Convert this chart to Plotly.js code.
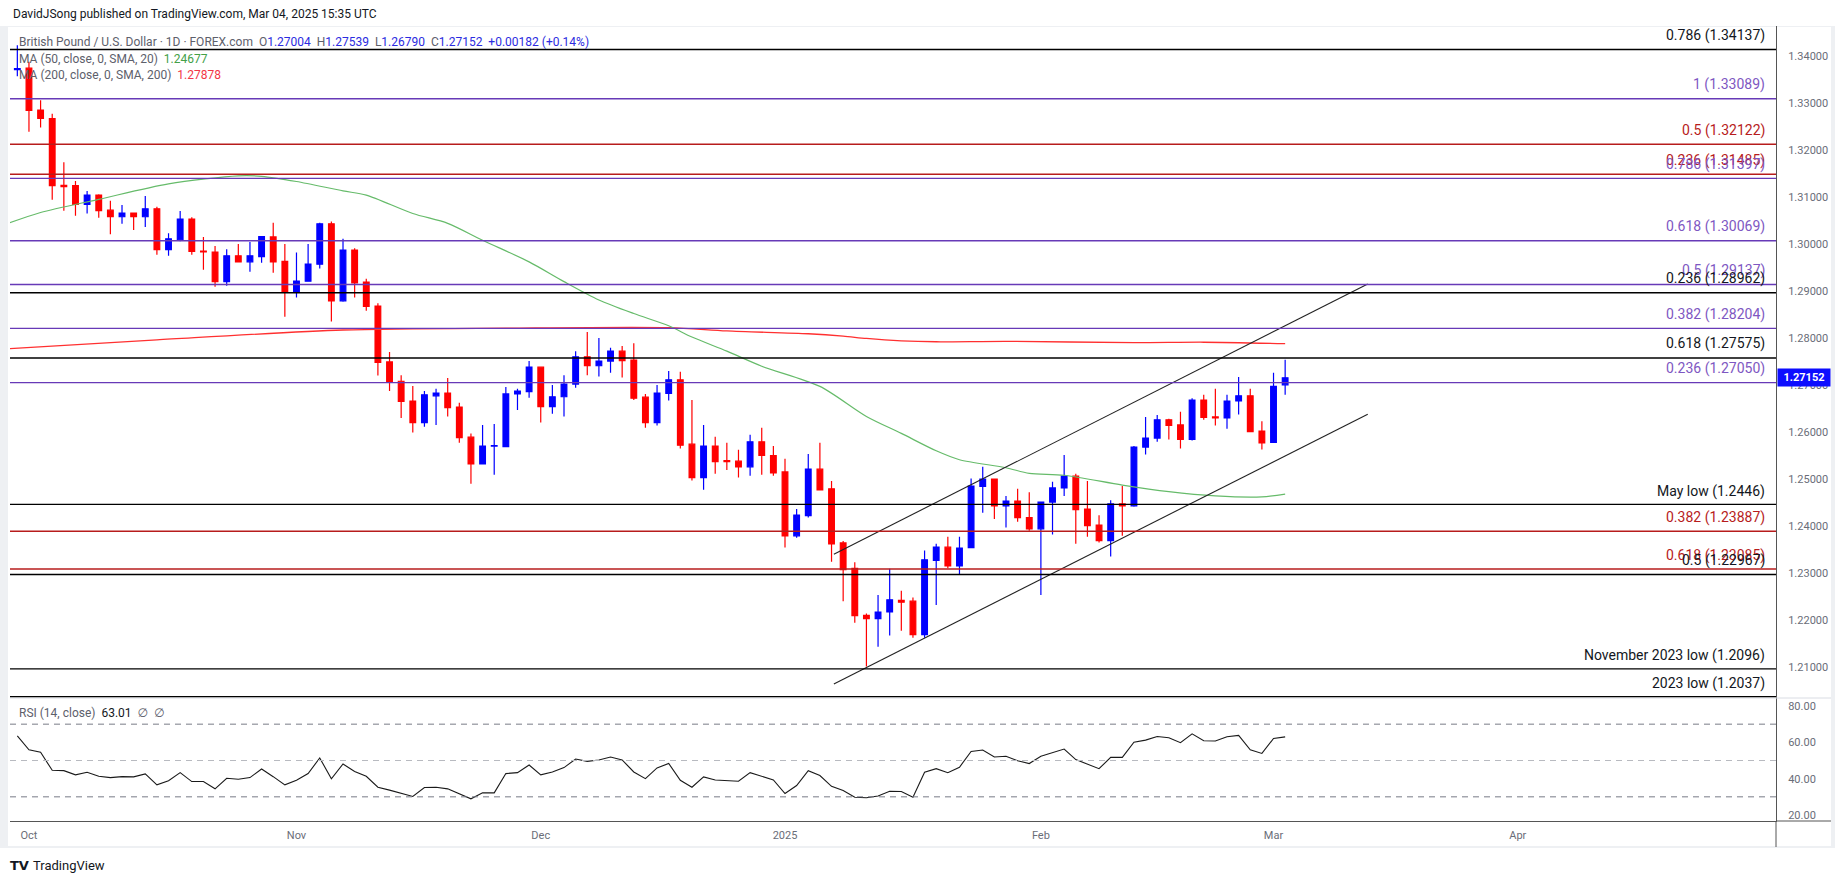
<!DOCTYPE html>
<html>
<head>
<meta charset="utf-8">
<script src="https://cdn.plot.ly/plotly-3.0.1.min.js"></script>
<style>
html,body{margin:0;padding:0;background:#fff;}
#chart{width:1835px;height:883px;}
</style>
</head>
<body>
<div id="chart"></div>
<script>
// ---------------- DATA ----------------
const dates = [
'2024-09-30',
'2024-10-01','2024-10-02','2024-10-03','2024-10-04','2024-10-07','2024-10-08','2024-10-09','2024-10-10','2024-10-11',
'2024-10-14','2024-10-15','2024-10-16','2024-10-17','2024-10-18','2024-10-21','2024-10-22','2024-10-23','2024-10-24',
'2024-10-25','2024-10-28','2024-10-29','2024-10-30','2024-10-31',
'2024-11-01','2024-11-04','2024-11-05','2024-11-06','2024-11-07','2024-11-08','2024-11-11','2024-11-12','2024-11-13',
'2024-11-14','2024-11-15','2024-11-18','2024-11-19','2024-11-20','2024-11-21','2024-11-22','2024-11-25','2024-11-26',
'2024-11-27','2024-11-28','2024-11-29',
'2024-12-02','2024-12-03','2024-12-04','2024-12-05','2024-12-06','2024-12-09','2024-12-10','2024-12-11','2024-12-12',
'2024-12-13','2024-12-16','2024-12-17','2024-12-18','2024-12-19','2024-12-20','2024-12-23','2024-12-24','2024-12-26',
'2024-12-27','2024-12-30','2024-12-31',
'2025-01-02','2025-01-03','2025-01-06','2025-01-07','2025-01-08','2025-01-09','2025-01-10','2025-01-13','2025-01-14',
'2025-01-15','2025-01-16','2025-01-17','2025-01-20','2025-01-21','2025-01-22','2025-01-23','2025-01-24','2025-01-27',
'2025-01-28','2025-01-29','2025-01-30','2025-01-31',
'2025-02-03','2025-02-04','2025-02-05','2025-02-06','2025-02-07','2025-02-10','2025-02-11','2025-02-12','2025-02-13',
'2025-02-14','2025-02-17','2025-02-18','2025-02-19','2025-02-20','2025-02-21','2025-02-24','2025-02-25','2025-02-26',
'2025-02-27','2025-02-28',
'2025-03-03','2025-03-04'
];

const openP = [
1.3371,
1.3374,1.3285,1.3267,1.3125,1.3124,1.3084,1.3104,1.3072,1.3058,1.3066,1.3058,1.3075,1.2988,1.3009,1.3053,1.2985,1.2983,1.2920,1.2975,1.2962,1.2973,1.3015,1.2963,
1.2899,1.2921,1.2957,1.3043,1.2879,1.2987,1.2919,1.2868,1.2749,1.2708,1.2666,1.2620,1.2677,1.2683,1.2653,1.2589,1.2532,1.2570,1.2569,1.2681,1.2686,
1.2738,1.2654,1.2675,1.2702,1.2760,1.2741,1.2751,1.2772,1.2753,1.2674,1.2620,1.2682,1.2711,1.2574,1.2503,1.2570,1.2539,1.2538,1.2526,1.2579,1.2550,
1.2515,1.2379,1.2422,1.2521,1.2479,1.2364,1.2310,1.2210,1.2203,1.2217,1.2242,1.2240,1.2169,1.2327,1.2355,1.2315,1.2354,1.2484,1.2500,1.2443,1.2453,1.2418,
1.2394,1.2451,1.2481,1.2506,1.2436,1.2402,1.2369,1.2447,1.2443,1.2568,1.2587,1.2626,1.2615,1.2584,1.2668,1.2632,1.2630,1.2666,1.2677,1.2602,
1.2578,1.27004
];
const highP = [
1.3423,
1.3388,1.3306,1.3277,1.3174,1.3134,1.3113,1.3106,1.3092,1.3083,1.3067,1.3102,1.3079,1.3023,1.3070,1.3057,1.3015,1.2996,1.2989,1.3000,1.3004,1.3017,1.3045,1.3000,
1.2982,1.3000,1.3045,1.3048,1.3011,1.2991,1.2926,1.2874,1.2770,1.2721,1.2698,1.2687,1.2692,1.2715,1.2662,1.2597,1.2615,1.2617,1.2696,1.2692,1.2751,
1.2739,1.2700,1.2721,1.2772,1.2813,1.2800,1.2779,1.2783,1.2789,1.2681,1.2700,1.2730,1.2728,1.2668,1.2615,1.2590,1.2577,1.2562,1.2594,1.2609,1.2570,
1.2543,1.2436,1.2553,1.2577,1.2496,1.2368,1.2323,1.2214,1.2253,1.2309,1.2262,1.2248,1.2348,1.2362,1.2377,1.2377,1.2501,1.2526,1.2501,1.2464,1.2479,1.2472,
1.2452,1.2494,1.2551,1.2511,1.2496,1.2423,1.2455,1.2485,1.2570,1.2632,1.2636,1.2628,1.2643,1.2672,1.2679,1.2692,1.2679,1.2717,1.2692,1.2623,
1.2726,1.27539
];
const lowP = [
1.3357,
1.3239,1.3248,1.3094,1.3071,1.3060,1.3065,1.3056,1.3021,1.3043,1.3030,1.3036,1.2977,1.2975,1.3006,1.2977,1.2945,1.2909,1.2911,1.2961,1.2941,1.2960,1.2939,1.2845,
1.2886,1.2920,1.2948,1.2835,1.2877,1.2886,1.2858,1.2720,1.2687,1.2630,1.2599,1.2611,1.2615,1.2633,1.2577,1.2490,1.2531,1.2509,1.2568,1.2647,1.2673,
1.2620,1.2639,1.2633,1.2694,1.2721,1.2718,1.2726,1.2716,1.2668,1.2609,1.2614,1.2667,1.2565,1.2497,1.2477,1.2511,1.2519,1.2503,1.2507,1.2509,1.2507,
1.2354,1.2375,1.2418,1.2476,1.2324,1.2240,1.2194,1.2101,1.2143,1.2167,1.2177,1.2162,1.2162,1.2232,1.2310,1.2298,1.2353,1.2428,1.2415,1.2397,1.2409,1.2390,
1.2253,1.2382,1.2464,1.2362,1.2377,1.2365,1.2335,1.2379,1.2441,1.2552,1.2579,1.2584,1.2565,1.2582,1.2626,1.2614,1.2607,1.2637,1.2600,1.2563,
1.2577,1.26790
];
const closeP = [
1.3373,
1.3284,1.3267,1.3124,1.3122,1.3084,1.3104,1.3071,1.3058,1.3066,1.3058,1.3075,1.2988,1.3011,1.3053,1.2984,1.2983,1.2920,1.2975,1.2962,1.2975,1.3016,1.2962,1.2899,
1.2921,1.2957,1.3043,1.2879,1.2987,1.2917,1.2867,1.2748,1.2706,1.2665,1.2620,1.2679,1.2683,1.2652,1.2588,1.2532,1.2570,1.2571,1.2681,1.2687,1.2738,
1.2654,1.2675,1.2702,1.2760,1.2741,1.2751,1.2772,1.2752,1.2672,1.2620,1.2683,1.2711,1.2572,1.2503,1.2570,1.2537,1.2537,1.2526,1.2579,1.2550,1.2513,
1.2379,1.2423,1.2521,1.2477,1.2362,1.2307,1.2209,1.2203,1.2217,1.2243,1.2238,1.2169,1.2328,1.2355,1.2315,1.2353,1.2485,1.2500,1.2443,1.2453,1.2418,1.2394,
1.2451,1.2481,1.2506,1.2435,1.2401,1.2369,1.2447,1.2443,1.2568,1.2587,1.2626,1.2614,1.2584,1.2668,1.2631,1.2630,1.2666,1.2677,1.2601,1.2577,
1.2697,1.27152
];

const rsiVals = [
63.6,
55.9,54.5,44.6,44.4,42.1,43.5,41.3,40.6,41.1,41.0,42.6,36.6,38.9,43.3,38.4,38.4,34.4,40.2,39.7,40.6,45.3,41.1,36.6,
39.1,42.8,51.4,39.9,48.1,43.9,41.3,35.3,33.7,31.8,30.2,35.1,35.3,34.4,31.6,28.9,32.2,32.2,42.8,43.3,47.5,
42.1,43.7,46.1,50.8,49.5,50.3,51.9,50.3,43.7,40.0,45.9,48.4,39.1,35.3,41.0,39.3,39.1,38.6,43.3,41.5,39.3,
31.8,36.2,44.4,41.7,35.8,33.5,29.8,29.5,30.5,33.1,32.9,29.8,43.5,45.5,43.3,46.3,55.0,55.8,51.9,52.3,49.9,48.3,
52.3,54.5,56.3,50.5,48.1,45.5,51.7,51.7,60.1,61.2,63.2,62.5,59.8,64.7,60.9,60.7,63.1,63.8,55.9,53.9,
62.1,63.0
];

// Moving averages at sample dates
const ma50Dates = ['2024-09-27','2024-10-02','2024-10-09','2024-10-17','2024-10-25','2024-10-29','2024-11-01','2024-11-07',
  '2024-11-11','2024-11-15','2024-11-20','2024-11-25','2024-11-29','2024-12-04','2024-12-09','2024-12-12','2024-12-17',
  '2024-12-19','2024-12-24','2024-12-30','2025-01-07','2025-01-13','2025-01-16','2025-01-21','2025-01-23','2025-01-29',
  '2025-01-31','2025-02-05','2025-02-12','2025-02-18','2025-02-24','2025-02-28','2025-03-04'];
const ma50Vals = [1.3042,1.3067,1.3095,1.3128,1.3145,1.3144,1.3133,1.3113,
  1.3104,1.3065,1.3044,1.3008,1.2962,1.2920,1.2881,1.2852,1.2826,
  1.2802,1.2772,1.2740,1.2697,1.2633,1.2597,1.2560,1.2541,1.2524,
  1.2512,1.2508,1.2487,1.2473,1.2464,1.2462,1.2468];
const ma200Dates = ['2024-09-27','2024-10-16','2024-11-07','2024-11-27','2024-12-17','2024-12-24','2025-01-06','2025-01-09',
  '2025-01-13','2025-01-16','2025-01-21','2025-01-29','2025-02-13','2025-02-21','2025-03-04'];
const ma200Vals = [1.2777,1.2796,1.2817,1.2821,1.2822,1.2815,1.2809,1.2804,
  1.2799,1.2794,1.2792,1.2793,1.2790,1.2791,1.2788];

// Rising channel drawn on the chart
const channelX = ['2025-01-08 04:48','2025-03-13 02:24'];
const channelUpper = [1.2340, 1.2915];
const channelLower = [1.2064, 1.2638];

// Horizontal levels
const levelPrices = [1.34137,1.33089,1.32122,1.31485,1.31397,1.30069,1.29137,1.28962,1.28204,1.27575,1.27050,1.2446,1.23887,1.23085,1.22967,1.2096,1.2037];
const levelLabels = ['0.786 (1.34137)','1 (1.33089)','0.5 (1.32122)','0.236 (1.31485)','0.786 (1.31397)','0.618 (1.30069)','0.5 (1.29137)','0.236 (1.28962)','0.382 (1.28204)','0.618 (1.27575)','0.236 (1.27050)','May low (1.2446)','0.382 (1.23887)','0.618 (1.23085)','0.5 (1.22967)','November 2023 low (1.2096)','2023 low (1.2037)'];
const levelGroups = ['black','purple','red','red','purple','purple','purple','black','purple','black','purple','black','red','red','black','black','black'];

const priceTicks = [1.21,1.22,1.23,1.24,1.25,1.26,1.27,1.28,1.29,1.30,1.31,1.32,1.33,1.34];
const rsiTicks = [20,40,60,80];
const rsiBands = [70,50,30];
const monthTickDates = ['2024-10-01','2024-11-01','2024-12-02','2025-01-02','2025-02-03','2025-03-03','2025-04-01'];
const monthTickLabels = ['Oct','Nov','Dec','2025','Feb','Mar','Apr'];

// ---------------- STYLE / LAYOUT ----------------
const FONT = 'Roboto, "Noto Sans", "DejaVu Sans", sans-serif';
const UP = '#0000ff', DOWN = '#ff0000';
const groupLine = {black:'#000000', purple:'#673ab7', red:'#b71c1c'};
const groupText = {black:'#131722', purple:'#7e57c2', red:'#b71c1c'};

// pixel frame of the plotting area
const PL = 10, PR = 1776, PT = 26, PB = 821, SEP = 698;
const fx = X => (X - PL) / (PR - PL);
const fy = Y => (PB - Y) / (PB - PT);
const sepFrac = fy(SEP);

const traces = [
  {type:'scatter', mode:'lines', x:ma200Dates, y:ma200Vals, line:{color:'#ff3030', width:1.3, shape:'spline', smoothing:0.8}, xaxis:'x', yaxis:'y', hoverinfo:'skip'},
  {type:'scatter', mode:'lines', x:ma50Dates, y:ma50Vals, line:{color:'#66bb6a', width:1.2, shape:'spline', smoothing:0.8}, xaxis:'x', yaxis:'y', hoverinfo:'skip'},
  {type:'candlestick', x:dates, open:openP, high:highP, low:lowP, close:closeP,
    increasing:{line:{color:UP, width:1.2}, fillcolor:UP},
    decreasing:{line:{color:DOWN, width:1.2}, fillcolor:DOWN},
    whiskerwidth:0, xaxis:'x', yaxis:'y', hoverinfo:'skip'},
  {type:'scatter', mode:'lines', x:channelX, y:channelUpper, line:{color:'#222', width:1.1}, xaxis:'x', yaxis:'y', hoverinfo:'skip'},
  {type:'scatter', mode:'lines', x:channelX, y:channelLower, line:{color:'#222', width:1.1}, xaxis:'x', yaxis:'y', hoverinfo:'skip'},
  {type:'scatter', mode:'lines', x:dates, y:rsiVals, line:{color:'#1a1a1a', width:1.1}, xaxis:'x', yaxis:'y2', hoverinfo:'skip'}
];

const shapes = [];
// frame
shapes.push({type:'rect', xref:'paper', yref:'paper', x0:fx(0), x1:fx(1835), y0:fy(848), y1:fy(26), fillcolor:'#eef0f3', line:{width:0}, layer:'below'});
shapes.push({type:'rect', xref:'paper', yref:'paper', x0:fx(8), x1:fx(1831), y0:fy(846), y1:fy(27), fillcolor:'#ffffff', line:{width:0}, layer:'below'});
// pane separator
shapes.push({type:'line', xref:'paper', yref:'paper', x0:0, x1:1, y0:sepFrac, y1:sepFrac, line:{color:'#d9dce3', width:1}});
shapes.push({type:'line', xref:'paper', yref:'paper', x0:1, x1:fx(1831), y0:sepFrac, y1:sepFrac, line:{color:'#d9dce3', width:1}});
// time axis bottom & right line extension
shapes.push({type:'line', xref:'paper', yref:'paper', x0:1, x1:1, y0:0, y1:fy(847), line:{color:'#555', width:1}});
shapes.push({type:'line', xref:'paper', yref:'paper', x0:1, x1:fx(1831), y0:0, y1:0, line:{color:'#555', width:1}});
// RSI bands
rsiBands.forEach((v,i) => shapes.push({type:'line', xref:'paper', yref:'y2', x0:0, x1:1, y0:v, y1:v,
  line:{color: i===1 ? '#b8bac0' : '#787b86', width:1, dash:'6px,5px'}}));
// horizontal levels
levelPrices.forEach((p,i) => shapes.push({type:'line', xref:'paper', yref:'y', x0:0, x1:1, y0:p, y1:p,
  line:{color:groupLine[levelGroups[i]], width:1.4}}));

const annotations = [];
levelPrices.forEach((p,i) => {
  const isLow = levelLabels[i].indexOf('low') >= 0;
  annotations.push({xref:'paper', yref:'y', x:1, y:p, xanchor:'right', yanchor:'middle', xshift:-9, yshift:isLow ? 13 : 14,
    text:levelLabels[i], showarrow:false, font:{family:FONT, size:14, color:groupText[levelGroups[i]]}});
});
const G = '#5d606b', BL = '#2b2be0';
const sp = t => '<span style="color:'+BL+'">'+t+'</span>';
annotations.push({xref:'paper', yref:'paper', x:fx(11), y:fy(14), xanchor:'left', yanchor:'middle', showarrow:false,
  text:'DavidJSong published on TradingView.com, Mar 04, 2025 15:35 UTC', font:{family:FONT, size:12, color:'#131722'}});
annotations.push({xref:'paper', yref:'paper', x:fx(17), y:fy(42), xanchor:'left', yanchor:'middle', showarrow:false,
  text:'British Pound / U.S. Dollar · 1D · FOREX.com\u00a0\u00a0O'+sp('1.27004')+'\u00a0\u00a0H'+sp('1.27539')+'\u00a0\u00a0L'+sp('1.26790')+'\u00a0\u00a0C'+sp('1.27152')+'\u00a0\u00a0'+sp('+0.00182 (+0.14%)'),
  font:{family:FONT, size:12, color:G}});
annotations.push({xref:'paper', yref:'paper', x:fx(17), y:fy(59), xanchor:'left', yanchor:'middle', showarrow:false,
  text:'MA (50, close, 0, SMA, 20)\u00a0\u00a0<span style="color:#43a047">1.24677</span>', font:{family:FONT, size:12, color:G}});
annotations.push({xref:'paper', yref:'paper', x:fx(17), y:fy(75), xanchor:'left', yanchor:'middle', showarrow:false,
  text:'MA (200, close, 0, SMA, 200)\u00a0\u00a0<span style="color:#f23645">1.27878</span>', font:{family:FONT, size:12, color:G}});
annotations.push({xref:'paper', yref:'paper', x:fx(17), y:fy(713), xanchor:'left', yanchor:'middle', showarrow:false,
  text:'RSI (14, close)\u00a0\u00a0<span style="color:#131722">63.01</span>\u00a0\u00a0∅\u00a0\u00a0∅', font:{family:FONT, size:12, color:G}});
annotations.push({xref:'paper', yref:'y', x:1, y:closeP[closeP.length-1], xanchor:'left', yanchor:'middle', xshift:1, showarrow:false,
  text:'<b>1.27152</b>', bgcolor:'#0d0dff', width:50, height:15, borderpad:1, font:{family:FONT, size:11, color:'#ffffff'}});
annotations.push({xref:'paper', yref:'paper', x:fx(8), y:fy(865), xanchor:'left', yanchor:'middle', showarrow:false,
  text:'<b>TV</b>', font:{family:'"DejaVu Sans", sans-serif', size:13, color:'#131722'}});
annotations.push({xref:'paper', yref:'paper', x:fx(31), y:fy(865), xanchor:'left', yanchor:'middle', showarrow:false,
  text:'TradingView', font:{family:FONT, size:13, color:'#131722'}});

const layout = {
  width:1835, height:883,
  margin:{l:PL, r:1835-PR, t:PT, b:883-PB, pad:0},
  paper_bgcolor:'#ffffff', plot_bgcolor:'rgba(0,0,0,0)',
  showlegend:false, hovermode:false, dragmode:false,
  boxgap:0.3,
  font:{family:FONT, size:11, color:'#5d606b'},
  xaxis:{type:'date', anchor:'y2', range:['2024-09-27 08:53','2025-05-01 04:48'],
    rangebreaks:[{bounds:['sat','mon']},{values:['2024-12-25','2025-01-01']}],
    tickmode:'array', tickvals:monthTickDates, ticktext:monthTickLabels,
    showgrid:false, zeroline:false, showline:true, linecolor:'#555', linewidth:1,
    ticks:'', ticklabelstandoff:4, tickfont:{family:FONT, size:11, color:'#6a6d78'},
    rangeslider:{visible:false}, fixedrange:true},
  yaxis:{domain:[sepFrac,1], range:[1.203404,1.346383], side:'right', anchor:'x',
    tickmode:'array', tickvals:priceTicks, tickformat:'.5f',
    showgrid:false, zeroline:false, showline:true, linecolor:'#555', linewidth:1,
    ticks:'', ticklabelstandoff:9, tickfont:{family:FONT, size:11, color:'#6a6d78'}, fixedrange:true},
  yaxis2:{domain:[0,sepFrac], range:[16.70,84.40], side:'right', anchor:'x',
    tickmode:'array', tickvals:rsiTicks, tickformat:'.2f',
    showgrid:false, zeroline:false, showline:true, linecolor:'#555', linewidth:1,
    ticks:'', ticklabelstandoff:9, tickfont:{family:FONT, size:11, color:'#6a6d78'}, fixedrange:true},
  shapes:shapes,
  annotations:annotations
};

Plotly.newPlot('chart', traces, layout, {staticPlot:true, displayModeBar:false});
</script>
</body>
</html>
